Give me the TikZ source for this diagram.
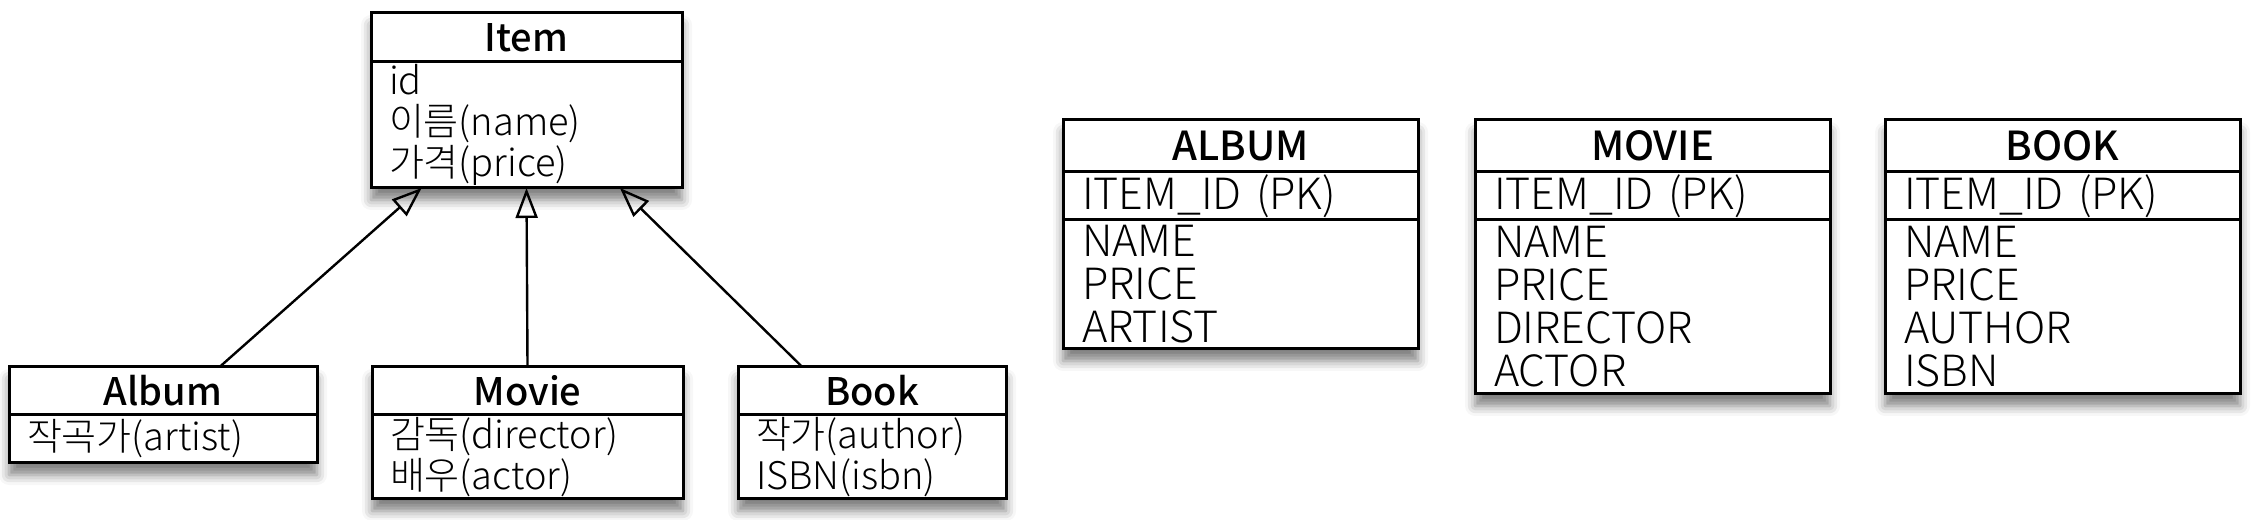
\documentclass[tikz,border=0pt]{standalone}
\usepackage{fontspec}
\setmainfont{Noto Sans CJK KR Light}[BoldFont={Noto Sans CJK KR Medium}]
\usetikzlibrary{positioning, arrows.meta, backgrounds, shadows.blur}
\tikzstyle{classhead} = [rectangle, draw=black, line width=0.75pt, fill=white, outer sep=0pt, inner sep=0pt, text centered, font=\bfseries\fontsize{9.5}{10}\selectfont]
\tikzstyle{classbody} = [rectangle, draw=black, line width=0.75pt, fill=white, outer sep=0pt, inner xsep=4.5pt, inner ysep=0pt, align=left, font=\fontsize{9.5}{10.25}\selectfont]
\tikzstyle{tablehead} = [classhead, minimum width=88.75pt, minimum height=13pt, font=\bfseries\fontsize{10}{10}\selectfont]
\tikzstyle{tablerow} = [classbody, inner xsep=4.75pt, text width=79.25pt, font=\fontsize{10.75}{10.75}\selectfont]
\tikzstyle{inherits} = [line width=0.6pt, -{Triangle[open, length=7.5pt, width=5.5pt]}]
\tikzstyle{shade} = [fill=white, blur shadow={shadow xshift=0pt, shadow yshift=-3pt, shadow blur radius=2.5pt, shadow opacity=50}]

\begin{document}
\begin{tikzpicture}[x=0.25pt, y=-0.25pt]

	\useasboundingbox (0,0) rectangle (2254,520);

	% class diagram
	\node (item)[classhead, anchor=north west, minimum width=77.75pt, minimum height=12.25pt] at (371,13) {Item};
	\node (itemBody)[classbody, below=0pt of item, text width=68.75pt, minimum height=31.5pt] {id\\이름(name)\\가격(price)};

	\node (album)[classhead, anchor=north west, minimum width=77pt, minimum height=12pt] at (9,367) {Album};
	\node (albumBody)[classbody, below=0pt of album, text width=68pt, minimum height=12pt] {작곡가(artist)};

	\node (movie)[classhead, anchor=north west, minimum width=77.75pt, minimum height=12pt] at (372,367) {Movie};
	\node (movieBody)[classbody, below=0pt of movie, text width=68.75pt, minimum height=21pt] {감독(director)\\배우(actor)};

	\node (book)[classhead, anchor=north west, minimum width=67pt, minimum height=12pt] at (738,367) {Book};
	\node (bookBody)[classbody, below=0pt of book, text width=58pt, minimum height=21pt] {작가(author)\\ISBN(isbn)};

	% tables
	\node (tAlbum)[tablehead, anchor=north west] at (1063,120) {ALBUM};
	\node (tAlbumKey)[tablerow, below=0pt of tAlbum, minimum height=12pt] {ITEM\_ID (PK)};
	\node (tAlbumCols)[tablerow, below=0pt of tAlbumKey, minimum height=32.25pt] {NAME\\PRICE\\ARTIST};

	\node (tMovie)[tablehead, anchor=north west] at (1475,120) {MOVIE};
	\node (tMovieKey)[tablerow, below=0pt of tMovie, minimum height=12pt] {ITEM\_ID (PK)};
	\node (tMovieCols)[tablerow, below=0pt of tMovieKey, minimum height=43.5pt] {NAME\\PRICE\\DIRECTOR\\ACTOR};

	\node (tBook)[tablehead, anchor=north west] at (1885,120) {BOOK};
	\node (tBookKey)[tablerow, below=0pt of tBook, minimum height=12pt] {ITEM\_ID (PK)};
	\node (tBookCols)[tablerow, below=0pt of tBookKey, minimum height=43.5pt] {NAME\\PRICE\\AUTHOR\\ISBN};

	\begin{scope}[on background layer]
	\foreach \top/\bot in {item/itemBody, album/albumBody, movie/movieBody, book/bookBody, tAlbum/tAlbumCols, tMovie/tMovieCols, tBook/tBookCols}
		\path [shade] (\top.north west) rectangle (\bot.south east);
	\end{scope}

	\draw [inherits] (album.23) -- (itemBody.211);
	\draw [inherits] (movie.north) -- (itemBody.south);
	\draw [inherits] (book.161) -- (itemBody.326);

\end{tikzpicture}
\end{document}
